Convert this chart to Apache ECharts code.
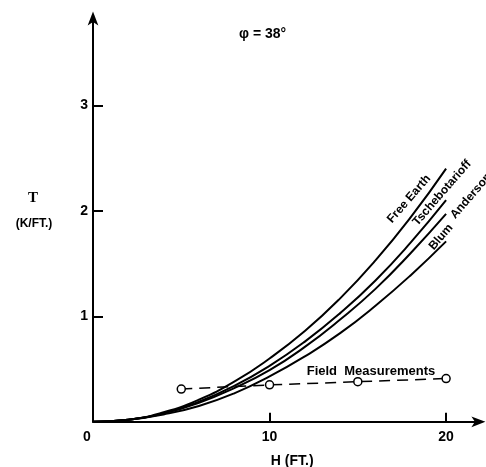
<!DOCTYPE html>
<html><head><meta charset="utf-8">
<script src="https://cdn.jsdelivr.net/npm/echarts@6/dist/echarts.min.js"></script>
<style>html,body{margin:0;padding:0;background:#fff}#c{width:486px;height:467px}</style>
</head><body><div id="c"></div>
<script>
const heights = [0, 2, 4, 6, 8, 10, 12, 14, 16, 18, 20];
const freeEarth = [0, 0.02, 0.09, 0.21, 0.38, 0.60, 0.86, 1.17, 1.53, 1.94, 2.40];
const tschebotarioff = [0, 0.02, 0.08, 0.19, 0.34, 0.53, 0.76, 1.03, 1.34, 1.70, 2.10];
const anderson = [0, 0.02, 0.08, 0.18, 0.32, 0.49, 0.71, 0.97, 1.26, 1.60, 1.97];
const blum = [0, 0.02, 0.07, 0.15, 0.27, 0.43, 0.62, 0.84, 1.10, 1.39, 1.71];
const fieldH = [5, 10, 15, 20];
const fieldT = [0.31, 0.35, 0.38, 0.41];
const xTicks = [0, 10, 20];
const yTicks = [1, 2, 3];

const font = "'Liberation Sans', Arial, sans-serif";
const pair = (xs, ys) => xs.map((x, i) => [x, ys[i]]);
const curve = (name, ys) => ({
  name, type: 'line', smooth: true, showSymbol: false, symbol: 'none',
  data: pair(heights, ys), lineStyle: {color: '#000', width: 2}, z: 3
});
const lbl = (text, x, y, rot, size) => ({
  type: 'text', x, y, rotation: rot * Math.PI / 180,
  style: {text, font: "bold " + size + "px 'Liberation Sans', Arial, sans-serif", fill: '#000', align: 'center', verticalAlign: 'middle'}
});

const chart = echarts.init(document.getElementById('c'), null, {renderer: 'canvas'});
chart.setOption({
  animation: false,
  backgroundColor: '#fff',
  grid: {left: 93, right: 4.6, top: 15.6, bottom: 45.2, outerBoundsMode: 'none', containLabel: false},
  xAxis: {
    type: 'value', min: 0, max: 22, interval: 10,
    axisLine: {show: true, symbol: ['none', 'arrow'], symbolSize: [8, 14], symbolOffset: [0, 4], lineStyle: {color: '#000', width: 2}},
    axisTick: {show: true, inside: true, length: 9, customValues: [10, 20], lineStyle: {color: '#000', width: 2}},
    axisLabel: {
      customValues: xTicks, margin: 8, color: '#000', fontFamily: font, fontSize: 14, fontWeight: 'bold',
      formatter: v => v === 0 ? '{z|0}' : String(v),
      rich: {z: {padding: [0, 12, 0, 0], fontFamily: font, fontSize: 14, fontWeight: 'bold', color: '#000'}}
    },
    splitLine: {show: false},
    name: 'H (FT.)', nameLocation: 'middle', nameGap: 32,
    nameTextStyle: {color: '#000', fontFamily: font, fontSize: 14, fontWeight: 'bold', padding: [0, 0, 0, 10]}
  },
  yAxis: {
    type: 'value', min: 0, max: 3.85, interval: 1,
    axisLine: {show: true, symbol: ['none', 'arrow'], symbolSize: [8, 14], symbolOffset: [0, 4], lineStyle: {color: '#000', width: 2}},
    axisTick: {show: true, inside: true, length: 10, customValues: yTicks, lineStyle: {color: '#000', width: 2}},
    axisLabel: {customValues: yTicks, margin: 5, color: '#000', fontFamily: font, fontSize: 14, fontWeight: 'bold'},
    splitLine: {show: false}
  },
  graphic: [
    {type: 'text', left: 239, top: 27, style: {text: 'φ = 38°', font: "bold 14px 'Liberation Sans', Arial, sans-serif", fill: '#000'}},
    {type: 'text', x: 33, y: 198, style: {text: 'T', font: "bold 15px 'Liberation Serif', serif", fill: '#000', align: 'center', verticalAlign: 'middle'}},
    {type: 'text', x: 34, y: 224, style: {text: '(K/FT.)', font: "bold 12px 'Liberation Sans', Arial, sans-serif", fill: '#000', align: 'center', verticalAlign: 'middle'}},
    lbl('Free Earth', 409, 199, 49, 12),
    lbl('Tschebotarioff', 442, 193, 49, 12),
    lbl('Anderson', 471, 196, 49, 12),
    lbl('Blum', 441, 237, 49, 12),
    lbl('Field  Measurements', 371, 371, 0, 13)
  ],
  series: [
    curve('Free Earth', freeEarth),
    curve('Tschebotarioff', tschebotarioff),
    curve('Anderson', anderson),
    curve('Blum', blum),
    {
      name: 'Field Measurements', type: 'line', data: pair(fieldH, fieldT),
      symbol: 'circle', symbolSize: 8, showSymbol: true,
      itemStyle: {color: '#fff', borderColor: '#000', borderWidth: 1.5},
      lineStyle: {color: '#000', width: 1.5, type: [11, 7]}, z: 4
    }
  ]
});
</script></body></html>
